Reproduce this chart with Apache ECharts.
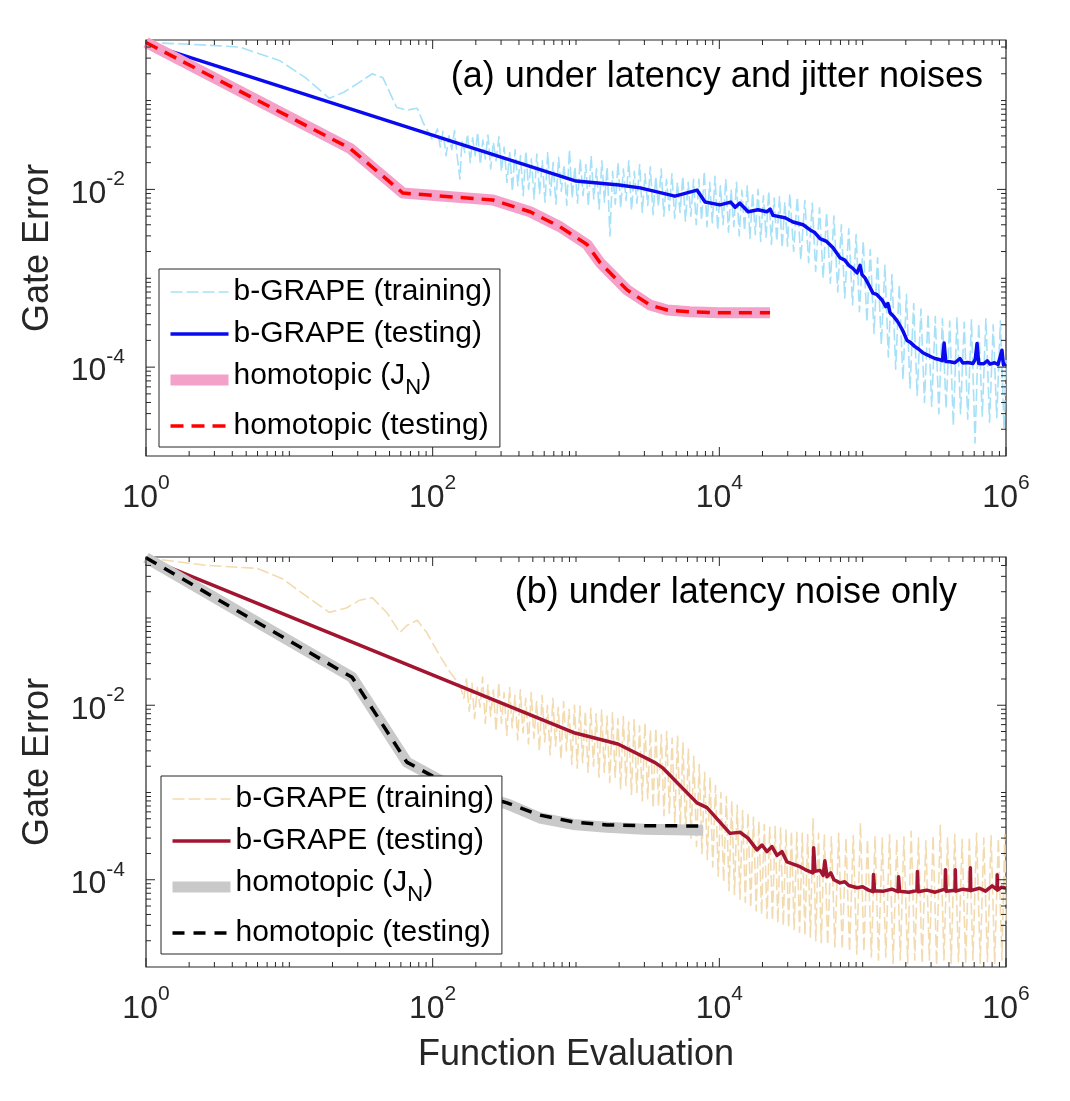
<!DOCTYPE html>
<html>
<head>
<meta charset="utf-8">
<title>Gate Error</title>
<script src="https://cdn.jsdelivr.net/npm/echarts@6.0.0/dist/echarts.min.js"></script>
<style>
    html, body { margin: 0; padding: 0; background: #ffffff; }
    #chart { width: 1070px; height: 1101px; }
</style>
</head>
<body>
<div id="chart"></div>
<script>
// ---- data ([function evaluations, gate error]) ----

// (a) under latency and jitter noises
var trainA = [
    [1, 0.45], [2, 0.43], [4.5, 0.40], [8.6, 0.28], [13, 0.18], [19, 0.106], [24, 0.124], [30, 0.156], [38, 0.20], [45, 0.18],
    [56, 0.084], [66, 0.078], [78, 0.082], [86, 0.056], [100, 0.036],
    [108, 0.048], [113, 0.030], [118, 0.045], [124, 0.024], [130, 0.040], [136, 0.028], [142, 0.046], [149, 0.022], [155, 0.013],
    [160, 0.035], [168, 0.026], [175, 0.042], [183, 0.020], [190, 0.038], [198, 0.024], [206, 0.044], [215, 0.019], [224, 0.036],
    [233, 0.022], [243, 0.041], [254, 0.017], [265, 0.034], [277, 0.021], [290, 0.039], [302, 0.016],
    [315, 0.030], [330, 0.012], [345, 0.026], [360, 0.0095], [376, 0.028], [393, 0.011], [410, 0.024], [428, 0.0085], [447, 0.027],
    [467, 0.010], [488, 0.022], [510, 0.0078], [533, 0.025], [557, 0.009], [582, 0.021], [608, 0.0072], [635, 0.026], [663, 0.0085],
    [693, 0.020], [724, 0.0068], [756, 0.023], [790, 0.0095], [825, 0.019], [862, 0.0066], [900, 0.028], [940, 0.0080], [982, 0.018],
    [1025, 0.0070], [1070, 0.022], [1120, 0.0085], [1170, 0.019], [1220, 0.0065], [1275, 0.024], [1330, 0.0078], [1390, 0.017],
    [1450, 0.0060], [1515, 0.021], [1580, 0.0072], [1650, 0.018], [1725, 0.0030], [1800, 0.016], [1880, 0.0068], [1965, 0.020],
    [2050, 0.0062], [2140, 0.017], [2235, 0.0075], [2335, 0.021], [2440, 0.0058], [2550, 0.016], [2660, 0.0070], [2780, 0.019],
    [2900, 0.0055], [3030, 0.015], [3165, 0.0066], [3300, 0.018], [3450, 0.0052], [3600, 0.014], [3760, 0.0064], [3930, 0.017],
    [4100, 0.0050], [4280, 0.013], [4470, 0.0058], [4670, 0.015], [4880, 0.0047], [5100, 0.012], [5320, 0.0055], [5560, 0.014],
    [5800, 0.0044], [6060, 0.012], [6330, 0.0050], [6610, 0.013], [6900, 0.0040],
    [7200, 0.013], [7520, 0.0045], [7850, 0.016], [8200, 0.0038], [8560, 0.012], [8940, 0.0042], [9330, 0.014], [9740, 0.0035],
    [10170, 0.011], [10620, 0.0040], [11090, 0.013], [11580, 0.0033], [12090, 0.010], [12620, 0.0038], [13180, 0.012], [13760, 0.0030],
    [14370, 0.0098], [15000, 0.0034], [15660, 0.011], [16350, 0.0028], [17070, 0.0092], [17820, 0.0031], [18610, 0.010], [19430, 0.0026],
    [20290, 0.0085], [21180, 0.0029], [22120, 0.0095], [23090, 0.0024], [24110, 0.0080], [25170, 0.0026], [26280, 0.0083], [27440, 0.0022],
    [28650, 0.0072], [29920, 0.0023],
    [31000, 0.0090], [33000, 0.0020], [35000, 0.0082], [37000, 0.0016], [39500, 0.0075], [42000, 0.0015], [44500, 0.0070], [47000, 0.0012],
    [50000, 0.0062], [53000, 0.0010], [56000, 0.0055], [59500, 0.00088], [63000, 0.0050], [67000, 0.00070], [71000, 0.0040], [75000, 0.00060],
    [80000, 0.0036], [85000, 0.00050], [90000, 0.0031], [95000, 0.00042], [101000, 0.0026], [107000, 0.00032], [113000, 0.0021],
    [120000, 0.00024], [127000, 0.0017], [135000, 0.00018], [143000, 0.0014], [151000, 0.00013], [160000, 0.0011], [170000, 0.000095],
    [180000, 0.00085], [191000, 0.000072], [202000, 0.00066], [214000, 0.000058], [227000, 0.00052], [240000, 0.000048], [255000, 0.00045],
    [270000, 0.000040], [286000, 0.00040], [303000, 0.000036], [321000, 0.00037], [340000, 0.000030], [360000, 0.00035], [382000, 0.000034],
    [405000, 0.00033], [429000, 0.000022], [455000, 0.00036], [482000, 0.000030], [511000, 0.00032], [541000, 0.000026], [574000, 0.00034],
    [608000, 0.000014], [645000, 0.00031], [683000, 0.000028], [724000, 0.00035], [768000, 0.000024], [814000, 0.00030], [862000, 0.000027],
    [914000, 0.00033], [969000, 0.000020], [1000000, 0.00012]
];
var testA = [
    [1, 0.44], [1000, 0.0124], [2000, 0.0112], [2800, 0.0104], [4900, 0.0084], [7000, 0.0098], [7950, 0.0072], [10100, 0.0067],
    [12000, 0.0072], [12900, 0.0063], [13900, 0.0070], [15900, 0.0056], [18600, 0.0059], [21500, 0.0056], [22600, 0.0060], [23700, 0.0051],
    [28700, 0.0048], [32700, 0.0043], [38400, 0.0040], [43000, 0.0035], [46000, 0.0033], [50400, 0.0028], [56000, 0.0026], [62100, 0.0022],
    [69500, 0.0017], [75000, 0.0016], [80000, 0.0014], [85000, 0.0013], [91400, 0.00115], [95900, 0.00140], [99000, 0.00110],
    [103800, 0.00101], [110000, 0.00085], [118000, 0.00068], [125000, 0.00066], [136400, 0.00057], [145000, 0.00048], [150000, 0.00052],
    [155200, 0.00041], [165000, 0.00037], [176600, 0.00032], [190000, 0.00026], [203900, 0.00020], [215000, 0.00019], [231800, 0.00017],
    [245000, 0.00016], [263700, 0.000145], [280000, 0.000138], [300000, 0.000131], [320000, 0.000125], [346600, 0.000121],
    [360000, 0.000118], [370000, 0.000187], [380000, 0.000116], [406800, 0.000115], [440000, 0.000112], [477000, 0.000125],
    [500000, 0.000111], [540000, 0.000113], [588600, 0.000110], [610000, 0.000122], [628000, 0.000185], [645000, 0.000110],
    [700000, 0.000109], [740000, 0.000118], [774000, 0.000108], [830000, 0.000112], [880000, 0.000107], [937000, 0.000155],
    [960000, 0.000106], [1000000, 0.000108]
];
var homJA = [
    [1, 0.45], [26.5, 0.029], [62, 0.0091], [263, 0.0076], [478, 0.0056], [773, 0.0038], [1194, 0.0024], [1472, 0.0015],
    [2270, 0.00074], [3281, 0.00050], [4313, 0.00044], [6240, 0.00042], [10000, 0.00041], [22580, 0.00041]
];
var homTestA = [
    [1, 0.45], [26.5, 0.029], [62, 0.0091], [263, 0.0076], [478, 0.0056], [773, 0.0038], [1194, 0.0024], [1472, 0.0015],
    [2270, 0.00074], [3281, 0.00050], [4313, 0.00044], [6240, 0.00042], [10000, 0.00041], [22580, 0.00041]
];

// (b) under latency noise only
var trainB = [
    [1, 0.49], [2.7, 0.40], [6, 0.37], [9, 0.28], [13, 0.18], [19, 0.116], [25, 0.13], [31, 0.16], [38, 0.17], [48, 0.115],
    [59, 0.068], [66, 0.082], [78, 0.094], [91, 0.068], [112, 0.037], [132, 0.024], [155, 0.017],
    [165, 0.012], [172, 0.020], [180, 0.0085], [188, 0.018], [196, 0.0070], [205, 0.016], [214, 0.0095], [223, 0.021], [233, 0.0062],
    [243, 0.017], [254, 0.0075], [265, 0.015], [277, 0.0050], [289, 0.018], [302, 0.0062], [315, 0.014], [329, 0.0045], [344, 0.016],
    [359, 0.0055], [375, 0.013], [392, 0.0040], [409, 0.015], [427, 0.0048], [446, 0.012], [466, 0.0036], [487, 0.014], [509, 0.0042],
    [531, 0.011], [555, 0.0030], [580, 0.013], [605, 0.0038], [632, 0.010], [660, 0.0027], [690, 0.012], [720, 0.0034], [752, 0.0095],
    [786, 0.0024], [820, 0.011], [857, 0.0030], [895, 0.0090], [935, 0.0021], [976, 0.010],
    [1020, 0.0019], [1065, 0.0098], [1112, 0.0022], [1162, 0.0085], [1214, 0.0017], [1268, 0.0092], [1324, 0.0020], [1383, 0.0080],
    [1445, 0.0015], [1509, 0.0088], [1576, 0.0017], [1646, 0.0075], [1720, 0.0013], [1796, 0.0082], [1876, 0.0015], [1960, 0.0070],
    [2047, 0.0011], [2138, 0.0074], [2233, 0.0012], [2332, 0.0064], [2436, 0.00095], [2545, 0.0068], [2658, 0.0010], [2776, 0.0058],
    [2900, 0.00080], [3029, 0.0062], [3164, 0.00085], [3305, 0.0052], [3452, 0.00066], [3606, 0.0055], [3766, 0.00070], [3934, 0.0046],
    [4109, 0.00054], [4292, 0.0050], [4483, 0.00058], [4683, 0.0042], [4891, 0.00045], [5109, 0.0044], [5337, 0.00040], [5574, 0.0037],
    [5822, 0.00034], [6082, 0.0032], [6352, 0.00030], [6635, 0.0026], [6931, 0.00024], [7239, 0.0021], [7562, 0.00020], [7898, 0.0017],
    [8250, 0.00017],
    [8617, 0.0015], [9001, 0.00014], [9401, 0.0012], [9820, 0.00011], [10257, 0.0010], [10714, 0.000095], [11191, 0.00090],
    [11689, 0.000075], [12209, 0.00080], [12753, 0.000068], [13321, 0.00072], [13914, 0.000060], [14533, 0.00062], [15180, 0.000055],
    [15856, 0.00058], [16562, 0.000048], [17299, 0.00052], [18069, 0.000044], [18874, 0.00047], [19714, 0.000040], [20592, 0.00043],
    [21509, 0.000036], [22466, 0.00040], [23466, 0.000034], [24511, 0.00041], [25602, 0.000032], [26742, 0.00039], [27933, 0.000030],
    [29176, 0.00037], [30475, 0.000028], [31832, 0.00036], [33249, 0.000027], [34729, 0.00035], [36275, 0.000025], [37890, 0.00034],
    [39577, 0.000023], [41339, 0.00033], [43179, 0.000022], [45101, 0.00050], [47109, 0.000020], [49206, 0.00034], [51397, 0.000019],
    [54000, 0.00033], [57000, 0.000018], [60500, 0.00031], [64000, 0.000017], [68000, 0.00034], [72000, 0.000016], [76500, 0.00030],
    [81000, 0.000015], [86000, 0.00032], [91000, 0.000014], [96500, 0.00045], [102000, 0.000015], [108000, 0.00029], [115000, 0.000013],
    [122000, 0.00031], [129000, 0.000012], [137000, 0.00030], [145000, 0.000013], [154000, 0.00033], [163000, 0.000011], [173000, 0.00029],
    [183000, 0.000012], [194000, 0.00031], [206000, 0.000011], [218000, 0.00036], [231000, 0.000012], [245000, 0.00030], [260000, 0.000011],
    [276000, 0.00028], [292000, 0.000012], [310000, 0.00032], [328000, 0.0000105], [348000, 0.00042], [369000, 0.000012], [391000, 0.00030],
    [414000, 0.000011], [439000, 0.00033], [466000, 0.0000115], [494000, 0.00029], [523000, 0.000011], [555000, 0.00031], [588000, 0.000012],
    [623000, 0.00034], [661000, 0.000011], [700000, 0.00030], [742000, 0.0000115], [787000, 0.00032], [834000, 0.000011], [884000, 0.00030],
    [937000, 0.000012], [980000, 0.00033], [1000000, 0.00003]
];
var testB = [
    [1, 0.49], [985, 0.0048], [1963, 0.0036], [3560, 0.0022], [4050, 0.0019], [6985, 0.00076], [8200, 0.00067], [11870, 0.00034],
    [13940, 0.00035], [15850, 0.00030], [18300, 0.00022], [19850, 0.00025], [21500, 0.00021], [23300, 0.00024], [25260, 0.00019],
    [27360, 0.00021], [29650, 0.00016], [36550, 0.000141], [40000, 0.000130], [45000, 0.000120], [45500, 0.000232], [46500, 0.000125],
    [50400, 0.000128], [53000, 0.000112], [54500, 0.000165], [56400, 0.000108], [60000, 0.000120], [63000, 0.000100], [69500, 0.000092],
    [75000, 0.000095], [80000, 0.000086], [91400, 0.000081], [100000, 0.000083], [110000, 0.000076], [118000, 0.000073],
    [119000, 0.000115], [121000, 0.000075], [140000, 0.000074], [160000, 0.000078], [176600, 0.000073], [178000, 0.000108],
    [181000, 0.000074], [210000, 0.000072], [239300, 0.000075], [241000, 0.000124], [244000, 0.000073], [280000, 0.000076],
    [320000, 0.000072], [375800, 0.000078], [378000, 0.000130], [382000, 0.000074], [440900, 0.000076], [443000, 0.000130],
    [447000, 0.000074], [500000, 0.000078], [561000, 0.000076], [564000, 0.000137], [568000, 0.000075], [650000, 0.000080],
    [720000, 0.000074], [800000, 0.000085], [865500, 0.000077], [868000, 0.000114], [872000, 0.000076], [930000, 0.000082],
    [1000000, 0.000080]
];
var homJB = [
    [1, 0.49], [27.4, 0.0209], [66, 0.00223], [112, 0.00139], [191, 0.00098], [330, 0.00074], [561, 0.00051], [953, 0.00043],
    [1645, 0.00040], [3000, 0.00038], [7690, 0.00037]
];
var homTestB = [
    [1, 0.49], [27.4, 0.0209], [66, 0.00223], [112, 0.00139], [191, 0.00099], [330, 0.00076], [561, 0.00055], [953, 0.00046],
    [1645, 0.000425], [3000, 0.000415], [7690, 0.000414]
];

// legend entries, axis limits and ticks
var namesA = ['b-GRAPE (training)', 'b-GRAPE (testing)', 'homotopic (J_N)', 'homotopic (testing)'];
var namesB = namesA.map(function (n) { return n + ' '; });  // same text, kept apart from panel (a)
var titles = ['(a) under latency and jitter noises', '(b) under latency noise only'];
var xRange = [1, 1e6];
var yRangeA = [1e-5, 0.48];
var yRangeB = [1e-5, 0.5];
var xMajor = [1, 1e2, 1e4, 1e6];
var yMajor = [1e-4, 1e-2];
var mantissas = [1, 2, 3, 4, 5, 6, 7, 8, 9];

var FONT = '"Liberation Sans", Arial, Helvetica, sans-serif';
var INK = '#262626';

var chart = echarts.init(document.getElementById('chart'));

// 10^n labels, only on the labelled decades
function powLabel(v) {
    var e = Math.log10(v);
    var r = Math.round(e);
    if (Math.abs(e - r) > 1e-6 || r % 2 !== 0) {
        return '';
    }
    return '{b|10}{s|' + r + '}';
}
var powRich = {
    b: { fontSize: 32, fontFamily: FONT, color: INK, verticalAlign: 'bottom' },
    s: { fontSize: 21, fontFamily: FONT, color: INK, verticalAlign: 'top', padding: [0, 0, 20, 0] }
};

function isMajor(list, v) {
    for (var i = 0; i < list.length; i++) {
        if (Math.abs(v / list[i] - 1) < 1e-6) return true;
    }
    return false;
}

// tick marks for the four sides of one panel: [x, y, length, 0 = x tick | 1 = y tick]
function tickData(yRange) {
    var d = [];
    for (var e = 0; e < 6; e++) {
        mantissas.concat([10]).forEach(function (m) {
            var v = m * Math.pow(10, e);
            if (m === 1 && e > 0) return;
            d.push([v, yRange[0], isMajor(xMajor, v) ? 9 : 5, 0]);
        });
    }
    for (var k = -5; k < 0; k++) {
        mantissas.forEach(function (m) {
            var v = m * Math.pow(10, k);
            if (v <= yRange[0] * 1.0001 || v >= yRange[1]) return;
            d.push([xRange[0], v, isMajor(yMajor, v) ? 9 : 5, 1]);
        });
    }
    return d;
}

function tickSeries(gi, yRange) {
    return {
        type: 'custom',
        xAxisIndex: gi,
        yAxisIndex: gi,
        silent: true,
        animation: false,
        z: 10,
        data: tickData(yRange),
        renderItem: function (params, api) {
            var cs = params.coordSys;
            var len = api.value(2);
            var p = api.coord([api.value(0), api.value(1)]);
            var segs;
            if (api.value(3) === 0) {
                segs = [[p[0], cs.y + cs.height, p[0], cs.y + cs.height - len], [p[0], cs.y, p[0], cs.y + len]];
            } else {
                segs = [[cs.x, p[1], cs.x + len, p[1]], [cs.x + cs.width, p[1], cs.x + cs.width - len, p[1]]];
            }
            return {
                type: 'group',
                children: segs.map(function (s) {
                    return {
                        type: 'line',
                        shape: { x1: s[0], y1: s[1], x2: s[2], y2: s[3] },
                        style: { stroke: INK, lineWidth: 1 }
                    };
                })
            };
        }
    };
}

function lineSeries(name, data, gi, color, width, type) {
    return {
        name: name,
        type: 'line',
        xAxisIndex: gi,
        yAxisIndex: gi,
        data: data,
        symbol: 'none',
        showSymbol: false,
        silent: true,
        animation: false,
        lineStyle: { color: color, width: width, type: type, join: 'round' },
        itemStyle: { color: color }
    };
}

function xAxisOf(gi, withName) {
    var ax = {
        gridIndex: gi,
        type: 'log',
        logBase: 10,
        min: xRange[0],
        max: xRange[1],
        axisLine: { show: false },
        axisTick: { show: false },
        splitLine: { show: false },
        axisLabel: { formatter: powLabel, margin: 17, rich: powRich }
    };
    if (withName) {
        ax.name = 'Function Evaluation';
        ax.nameLocation = 'middle';
        ax.nameGap = 70;
        ax.nameTextStyle = { fontSize: 36, fontFamily: FONT, color: INK };
    }
    return ax;
}

function yAxisOf(gi, yRange) {
    return {
        gridIndex: gi,
        type: 'log',
        logBase: 10,
        min: yRange[0],
        max: yRange[1],
        name: 'Gate Error',
        nameLocation: 'middle',
        nameGap: 90,
        nameTextStyle: { fontSize: 36, fontFamily: FONT, color: INK },
        axisLine: { show: false },
        axisTick: { show: false },
        splitLine: { show: false },
        axisLabel: { formatter: powLabel, margin: 21, rich: powRich }
    };
}

function legendOf(names, left, top) {
    return {
        data: names,
        orient: 'vertical',
        left: left,
        top: top,
        itemWidth: 58,
        itemHeight: 16,
        itemGap: 12,
        padding: [8, 8, 6, 6],
        borderColor: INK,
        borderWidth: 1,
        borderRadius: 0,
        backgroundColor: '#ffffff',
        selectedMode: false,
        lineStyle: { width: 'inherit', type: 'inherit' },
        itemStyle: { opacity: 0, borderWidth: 0 },
        formatter: function (n) {
            n = n.trim();
            if (n === 'homotopic (J_N)') {
                return '{t|homotopic (J}{sub|N}{t|)}';
            }
            return n;
        },
        textStyle: {
            fontSize: 30,
            fontFamily: FONT,
            color: '#000000',
            rich: {
                t: { fontSize: 30, fontFamily: FONT, color: '#000000', verticalAlign: 'top' },
                sub: { fontSize: 22, fontFamily: FONT, color: '#000000', verticalAlign: 'bottom', padding: [16, 0, 0, 0] }
            }
        }
    };
}

var titleStyle = { fontSize: 36, fontWeight: 'normal', fontFamily: FONT, color: '#000000' };

var option = {
    animation: false,
    backgroundColor: '#ffffff',
    textStyle: { fontFamily: FONT },
    title: [
        { text: titles[0], right: 87, top: 59, padding: 0, textStyle: titleStyle },
        { text: titles[1], right: 113, top: 575, padding: 0, textStyle: titleStyle }
    ],
    grid: [
        { left: 146, top: 40, width: 860, height: 416, show: true, borderColor: INK, borderWidth: 1.2, backgroundColor: 'transparent' },
        { left: 146, top: 557, width: 860, height: 410, show: true, borderColor: INK, borderWidth: 1.2, backgroundColor: 'transparent' }
    ],
    legend: [
        legendOf(namesA, 159, 269),
        legendOf(namesB, 161, 776)
    ],
    xAxis: [xAxisOf(0, false), xAxisOf(1, true)],
    yAxis: [yAxisOf(0, yRangeA), yAxisOf(1, yRangeB)],
    series: [
        lineSeries(namesA[0], trainA, 0, '#A6E1F8', 1.6, [12, 4]),
        lineSeries(namesA[1], testA, 0, '#0A0AF0', 3.5, 'solid'),
        lineSeries(namesA[2], homJA, 0, '#F4A0C8', 11, 'solid'),
        lineSeries(namesA[3], homTestA, 0, '#FF0000', 3.5, [13, 8]),
        lineSeries(namesB[0], trainB, 1, '#F3DBB0', 1.6, [12, 4]),
        lineSeries(namesB[1], testB, 1, '#A2142F', 3.5, 'solid'),
        lineSeries(namesB[2], homJB, 1, '#C9C9C9', 11, 'solid'),
        lineSeries(namesB[3], homTestB, 1, '#000000', 3.5, [12, 9]),
        tickSeries(0, yRangeA),
        tickSeries(1, yRangeB)
    ]
};

chart.setOption(option);
</script>
</body>
</html>
